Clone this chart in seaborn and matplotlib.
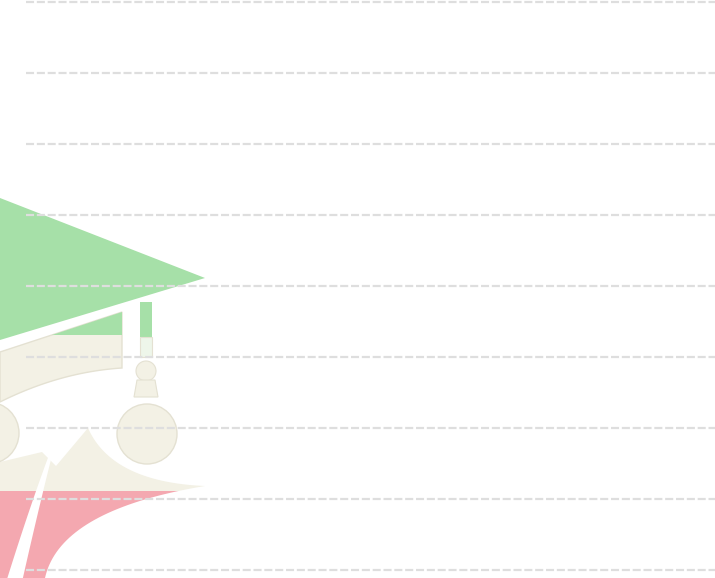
import numpy as np
import pandas as pd
import matplotlib
matplotlib.use("Agg")
import matplotlib.pyplot as plt
import seaborn as sns
from matplotlib.patches import Polygon, Circle, Rectangle

# ---- data: only the horizontal grid levels are visible in this crop ----
grid_levels = [0, 1, 2, 3, 4, 5, 6, 7, 8]
y_min, y_max = -0.113, 8.028

# ---- style ----
sns.set_theme(style="whitegrid")
plt.rcParams["lines.scale_dashes"] = False

fig = plt.figure(figsize=(7.15, 5.78), dpi=100)
fig.patch.set_facecolor("white")

# ---- watermark logo (decoration, drawn behind the chart) ----
GREEN = "#a6e0a8"
CREAM = "#f3f1e5"
RED = "#f4a8b0"
EDGE = "#e4e1d2"

lg = fig.add_axes([0, 0, 1, 1], zorder=0)
lg.set_xlim(0, 715)
lg.set_ylim(578, 0)
lg.axis("off")


def qbez(p0, c, p2, n=40):
    t = np.linspace(0, 1, n)[:, None]
    p0, c, p2 = map(np.asarray, (p0, c, p2))
    return (1 - t) ** 2 * p0 + 2 * t * (1 - t) * c + t ** 2 * p2


# body (cream upper part, red lower part)
upper = qbez((88, 428), (112, 482), (205, 486))
lower = qbez((205, 486), (60, 510), (45, 578))
body = np.vstack([[(0, 462), (42, 452), (56, 466)], upper, lower, [(0, 578)]])
clip_top = Rectangle((0, 0), 715, 491, transform=lg.transData)
clip_bot = Rectangle((0, 491), 715, 200, transform=lg.transData)
p1 = Polygon(body, closed=True, facecolor=CREAM, edgecolor="none")
lg.add_patch(p1)
p1.set_clip_path(clip_top)
p2 = Polygon(body, closed=True, facecolor=RED, edgecolor="none")
lg.add_patch(p2)
p2.set_clip_path(clip_bot)

# white curved stripe
cl = qbez((56, 438), (36, 500), (12, 590), 60)
d = np.gradient(cl, axis=0)
nrm = np.stack([-d[:, 1], d[:, 0]], axis=1)
nrm /= np.linalg.norm(nrm, axis=1, keepdims=True)
w = np.linspace(0.5, 8, len(cl))[:, None]
stripe = np.vstack([cl + nrm * w, (cl - nrm * w)[::-1]])
lg.add_patch(Polygon(stripe, closed=True, facecolor="white", edgecolor="none"))

# head circle at left
lg.add_patch(Circle((-12, 433), 31, facecolor=CREAM, edgecolor=EDGE, lw=1))

# cap band
band = np.vstack([[(0, 352), (122, 312), (122, 368)],
                  qbez((122, 368), (60, 372), (0, 402))])
lg.add_patch(Polygon(band, closed=True, facecolor=CREAM, edgecolor=EDGE, lw=1))
lg.add_patch(Polygon([(52, 335), (122, 312), (122, 335)], closed=True,
                     facecolor=GREEN, edgecolor="none"))

# mortarboard
lg.add_patch(Polygon([(0, 198), (205, 278), (0, 340)], closed=True,
                     facecolor=GREEN, edgecolor="none"))

# tassel
lg.add_patch(Rectangle((140, 302), 12, 35, facecolor=GREEN, edgecolor="none"))
lg.add_patch(Rectangle((140, 337), 12, 20, facecolor="#eef6ea", edgecolor=EDGE, lw=0.8))
lg.add_patch(Circle((146, 371), 10, facecolor=CREAM, edgecolor=EDGE, lw=0.8))
lg.add_patch(Polygon([(137, 380), (155, 380), (158, 397), (134, 397)], closed=True,
                     facecolor=CREAM, edgecolor=EDGE, lw=0.8))
lg.add_patch(Circle((147, 434), 30, facecolor=CREAM, edgecolor=EDGE, lw=1))

# ---- chart axes with dashed horizontal grid ----
ax = fig.add_axes([26 / 715, 0, 1 - 26 / 715, 1], zorder=1)
ax.patch.set_alpha(0)
sns.despine(ax=ax, left=True, bottom=True)
ax.set_ylim(y_min, y_max)
ax.set_xlim(0, 1)
ax.set_yticks(grid_levels)
ax.set_yticklabels([])
ax.set_xticks([])
ax.tick_params(length=0)
ax.xaxis.grid(False)
ax.yaxis.grid(True, color="#dedede", linewidth=1.6, linestyle=(0, (5.8, 2.0)))

fig.savefig("out.png", dpi=100)
